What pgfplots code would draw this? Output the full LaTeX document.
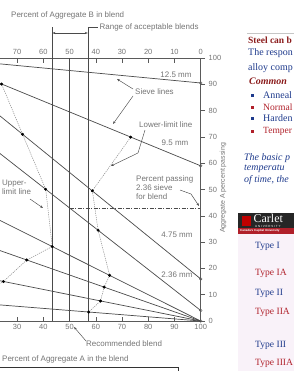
\documentclass[border=0pt]{standalone}
\usepackage{pgfplots}
\pgfplotsset{compat=1.18}
\usepackage{fontspec}
\setmainfont{Liberation Sans}
\newfontfamily\webserif{Liberation Serif}
\usetikzlibrary{arrows.meta}

\definecolor{ln}{HTML}{4A4A4A}
\definecolor{tx}{HTML}{747474}
\definecolor{ax}{HTML}{5A5A5A}
\definecolor{lim}{HTML}{8A8A8A}
\definecolor{wred}{HTML}{8B1C1C}
\definecolor{wblue}{HTML}{1E3A8C}
\definecolor{wred2}{HTML}{B0202A}

\pgfplotsset{
  base/.style={
    scale only axis, width=200.7bp, height=263bp,
    xmin=23.5, xmax=100, ymin=0, ymax=100,
    at={(0bp,-321bp)}, anchor=south west,
    axis line style={ax, line width=0.6bp},
    tick style={ax, line width=0.5bp},
    major tick length=4.5bp,
    ticklabel style={font=\fontsize{7.5}{8}\selectfont, text=tx},
    /pgf/number format/assume math mode=true,
  },
  sieve/.style={ln, line width=0.7bp, forget plot},
}

\begin{document}
\begin{tikzpicture}
\useasboundingbox (0bp,0bp) rectangle (294bp,-371bp);

% ---- axis 1: sieve lines and limit lines (clipped), bottom axis
\begin{axis}[base, axis x line*=bottom, axis y line=none, tick align=inside,
  xtick={30,40,...,100}, ytick=\empty, clip=true]
\addplot[sieve] coordinates {(0,100) (100,90.5)}; % 12.5 mm
\addplot[sieve] coordinates {(0,100) (100,59)};   % 9.5 mm
\addplot[sieve] coordinates {(0,97) (100,16)};    % 4.75 mm
\addplot[sieve] coordinates {(0,82) (100,4)};     % 2.36 mm
\addplot[sieve] coordinates {(0,50) (100,0)};     % 1.18 mm
\addplot[sieve] coordinates {(0,35) (100,0)};     % 0.60 mm
\addplot[sieve] coordinates {(0,20) (100,0)};     % 0.30 mm
\addplot[sieve] coordinates {(0,8) (100,0)};      % 0.15 mm
% upper-limit line
\addplot[lim, line width=0.5bp, dash pattern=on 1.2bp off 1bp] coordinates
  {(22,91) (24.1,90.1) (32.1,71.0) (40.9,50.1) (43.4,28.3) (33.7,23.2) (24.8,15.0) (10,7.2)};
% lower-limit line
\addplot[lim, line width=0.5bp, dash pattern=on 1.2bp off 1bp] coordinates
  {(73.3,69.9) (58.7,49.5) (60.9,34.5) (65.3,17.35) (63.2,12.9) (61.8,7.6) (57.3,3.4)};
\end{axis}

% ---- axis 2: top axis (Aggregate B), blend lines, points
\begin{axis}[base, axis x line*=top, axis y line=none, tick align=inside,
  xtick={30,40,...,100}, xticklabels={70,60,50,40,30,20,10,0}, ytick=\empty, clip=false]
\addplot[ln, line width=0.7bp] coordinates {(43.4,0) (43.4,111.8)};
\addplot[ln, line width=0.7bp] coordinates {(50,0) (50,100)};
\addplot[ln, line width=0.7bp] coordinates {(57,0) (57,111.8)};
\addplot[ln, line width=0.6bp, dash pattern=on 4bp off 1.5bp on 1bp off 1.5bp] coordinates {(50,43) (100,43)};
\addplot[only marks, mark=*, mark size=1.3bp, black] coordinates
  {(24.1,90.1) (32.1,71.0) (40.9,50.1) (43.4,28.3) (33.7,23.2) (24.8,15.0)
   (73.3,69.9) (58.7,49.5) (60.9,34.5) (65.3,17.35) (63.2,12.9) (61.8,7.6) (57.3,3.4)};
\addplot[only marks, mark=o, mark size=1.4bp, ln, mark options={fill=white}] coordinates
  {(100,90.5) (100,59) (100,16) (100,4) (100,0)};
\end{axis}

% ---- axis 3: right axis (Aggregate A percent passing)
\begin{axis}[base, axis y line*=right, axis x line=none, tick align=outside,
  ytick={0,10,...,100}, xtick=\empty]
\end{axis}

\begin{scope}[x=1bp, y=-1bp, font=\fontsize{8}{9}\selectfont, text=tx,
  arr/.style={ln, line width=0.45bp, -{Stealth[length=3bp,width=2.2bp]}}]
% chart annotations
\node[anchor=west, inner sep=0] at (11,15) {Percent of Aggregate B in blend};
\draw[ln, line width=0.45bp, {Stealth[length=3bp,width=2.2bp]}-{Stealth[length=3bp,width=2.2bp]}] (52.4,33) -- (87.8,33);
\draw[ln, line width=0.45bp] (87.9,27.5) -- (98,27.5);
\node[anchor=west, inner sep=0] at (99.5,27.5) {Range of acceptable blends};
\node[inner sep=0] at (176,75) {12.5 mm};
\node[anchor=west, inner sep=0] at (135,92) {Sieve lines};
\draw[arr] (133,89) -- (117,79);
\draw[arr] (133,96) -- (113,124);
\node[anchor=west, inner sep=0] at (139,125) {Lower-limit line};
\draw[arr] (145,130) -- (138,153) -- (111,166);
\node[inner sep=0] at (175,143) {9.5 mm};
\node[anchor=north west, align=left, inner sep=0, font=\fontsize{8}{8.6}\selectfont] at (2,180) {Upper-\\limit line};
\draw[arr] (30,199) -- (43,208);
\node[anchor=north west, align=left, inner sep=0, font=\fontsize{8}{8.6}\selectfont] at (136,176) {Percent passing\\2.36 sieve\\for blend};
\draw[arr] (180,190) -- (191,194) -- (199,206);
\node[inner sep=0] at (177,235) {4.75 mm};
\node[inner sep=0] at (177,275) {2.36 mm};
\node[anchor=west, inner sep=0] at (86,344) {Recommended blend};
\draw[arr] (86,341) -- (74,327);
\node[anchor=west, inner sep=0] at (2,359) {Percent of Aggregate A in the blend};
\node[rotate=90, inner sep=0, font=\fontsize{7}{8}\selectfont] at (223,188) {Aggregate A percent passing};
\draw[black!80, line width=0.8bp] (0,367) -- (178,367) -- (178,372);

% web page column (cut at the screenshot's edge)
\draw[gray!45, line width=0.5bp] (247,33) -- (295,33);
\begin{scope}[font=\webserif\fontsize{10}{12}\selectfont]
\node[anchor=west, inner sep=0, text=wred, font=\webserif\bfseries\fontsize{9.5}{11}\selectfont] at (248,40.5) {Steel can b};
\node[anchor=west, inner sep=0, text=wblue] at (248,53.5) {The respon};
\node[anchor=west, inner sep=0, text=wblue] at (248,68) {alloy comp};
\node[anchor=west, inner sep=0, text=wred, font=\webserif\bfseries\itshape\fontsize{10}{12}\selectfont] at (249,81.5) {Common};
\fill[wblue] (250.5,93.5) rectangle (253.5,96.5);
\node[anchor=west, inner sep=0, text=wblue] at (263,95) {Anneal};
\fill[wred2] (250.5,105.5) rectangle (253.5,108.5);
\node[anchor=west, inner sep=0, text=wred2, font=\webserif\fontsize{9.6}{12}\selectfont] at (263,107) {Normal};
\fill[wblue] (250.5,117) rectangle (253.5,120);
\node[anchor=west, inner sep=0, text=wblue] at (263,118.5) {Harden};
\fill[wred2] (250.5,129.5) rectangle (253.5,132.5);
\node[anchor=west, inner sep=0, text=wred2, font=\webserif\fontsize{9.5}{12}\selectfont] at (263,131) {Temper};
\node[anchor=west, inner sep=0, text=wblue, font=\webserif\itshape\fontsize{10}{12}\selectfont] at (244,158) {The basic p};
\node[anchor=west, inner sep=0, text=wblue, font=\webserif\itshape\fontsize{10}{12}\selectfont] at (244,169) {temperatu};
\node[anchor=west, inner sep=0, text=wblue, font=\webserif\itshape\fontsize{10}{12}\selectfont] at (244,180.5) {of time, the};
% Carleton banner
\fill[black!85] (238,213) rectangle (295,228);
\fill[wred2] (238,228) rectangle (295,234);
\fill[red!75!black] (242,215.5) rectangle (251,226);
\node[anchor=west, inner sep=0, text=white, font=\webserif\fontsize{12}{12}\selectfont] at (253.5,218.3) {Carlet};
\node[anchor=west, inner sep=0, text=white, font=\fontsize{3}{3.3}\selectfont] at (255,226.2) {U N I V E R S I T Y};
\node[anchor=west, inner sep=0, text=white, font=\bfseries\fontsize{3}{3.5}\selectfont] at (240,231) {Canada's Capital University};
\fill[violet!5] (238,234) rectangle (295,372);
\begin{scope}[font=\webserif\fontsize{9.6}{12}\selectfont]
\node[anchor=west, inner sep=0, text=wblue] at (255,246) {Type I};
\node[anchor=west, inner sep=0, text=wred2] at (255,273) {Type IA};
\node[anchor=west, inner sep=0, text=wblue] at (255,293) {Type II};
\node[anchor=west, inner sep=0, text=wred2] at (255,312) {Type IIA};
\node[anchor=west, inner sep=0, text=wblue] at (255,345) {Type III};
\node[anchor=west, inner sep=0, text=wred2] at (255,363.5) {Type IIIA};
\end{scope}
\end{scope}
\end{scope}
\end{tikzpicture}
\end{document}
